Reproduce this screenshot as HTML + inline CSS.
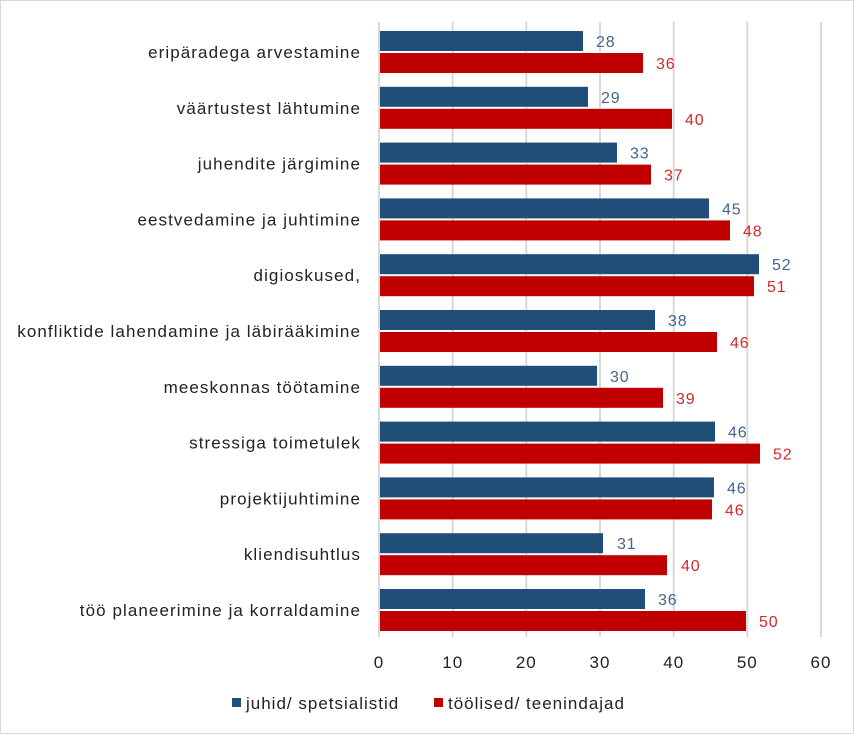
<!DOCTYPE html>
<html><head><meta charset="utf-8"><style>
html,body{margin:0;padding:0;background:#fff;}
svg{display:block;font-family:"Liberation Sans",sans-serif;}
.b{fill:#1f4e79}.r{fill:#c00000}.tb{fill:#44658f;font-size:16px;letter-spacing:0.8px}.tr{fill:#d42a2a;font-size:16px;letter-spacing:0.8px}.l{fill:#222;font-size:17px;letter-spacing:1.08px;text-anchor:end}
.t{font-size:17px;letter-spacing:1px}
</style></head><body>
<svg width="854" height="734" viewBox="0 0 854 734" xmlns="http://www.w3.org/2000/svg">
<rect x="0.5" y="0.5" width="853" height="733" fill="#fff" stroke="#d9d9d9"/>
<g stroke="#d9d9d9" stroke-width="2">
<line x1="379" y1="22" x2="379" y2="637"/>
<line x1="452.7" y1="22" x2="452.7" y2="637"/>
<line x1="526.3" y1="22" x2="526.3" y2="637"/>
<line x1="600" y1="22" x2="600" y2="637"/>
<line x1="673.7" y1="22" x2="673.7" y2="637"/>
<line x1="747.3" y1="22" x2="747.3" y2="637"/>
<line x1="821" y1="22" x2="821" y2="637"/>
</g>
<rect class="b" x="380" y="31" width="203" height="20"/><rect class="r" x="380" y="53" width="263" height="20"/>
<text class="tb" x="596" y="47">28</text><text class="tr" x="656" y="69">36</text><text class="l" x="361" y="58">eripäradega arvestamine</text>

<rect class="b" x="380" y="86.8" width="208" height="20"/><rect class="r" x="380" y="108.8" width="292" height="20"/>
<text class="tb" x="601" y="102.8">29</text><text class="tr" x="685" y="124.8">40</text><text class="l" x="361" y="113.8">väärtustest lähtumine</text>

<rect class="b" x="380" y="142.6" width="237" height="20"/><rect class="r" x="380" y="164.6" width="271" height="20"/>
<text class="tb" x="630" y="158.6">33</text><text class="tr" x="664" y="180.6">37</text><text class="l" x="361" y="169.6">juhendite järgimine</text>

<rect class="b" x="380" y="198.4" width="329" height="20"/><rect class="r" x="380" y="220.4" width="350" height="20"/>
<text class="tb" x="722" y="214.4">45</text><text class="tr" x="743" y="236.4">48</text><text class="l" x="361" y="225.4">eestvedamine ja juhtimine</text>

<rect class="b" x="380" y="254.2" width="379" height="20"/><rect class="r" x="380" y="276.2" width="374" height="20"/>
<text class="tb" x="772" y="270.2">52</text><text class="tr" x="767" y="292.2">51</text><text class="l" x="361" y="281.2">digioskused,</text>

<rect class="b" x="380" y="310" width="275" height="20"/><rect class="r" x="380" y="332" width="337" height="20"/>
<text class="tb" x="668" y="326">38</text><text class="tr" x="730" y="348">46</text><text class="l" x="361" y="337">konfliktide lahendamine ja läbirääkimine</text>

<rect class="b" x="380" y="365.8" width="217" height="20"/><rect class="r" x="380" y="387.8" width="283" height="20"/>
<text class="tb" x="610" y="381.8">30</text><text class="tr" x="676" y="403.8">39</text><text class="l" x="361" y="392.8">meeskonnas töötamine</text>

<rect class="b" x="380" y="421.6" width="335" height="20"/><rect class="r" x="380" y="443.6" width="380" height="20"/>
<text class="tb" x="728" y="437.6">46</text><text class="tr" x="773" y="459.6">52</text><text class="l" x="361" y="448.6">stressiga toimetulek </text>

<rect class="b" x="380" y="477.4" width="334" height="20"/><rect class="r" x="380" y="499.4" width="332" height="20"/>
<text class="tb" x="727" y="493.4">46</text><text class="tr" x="725" y="515.4">46</text><text class="l" x="361" y="504.4">projektijuhtimine</text>

<rect class="b" x="380" y="533.2" width="223" height="20"/><rect class="r" x="380" y="555.2" width="287" height="20"/>
<text class="tb" x="617" y="549.2">31</text><text class="tr" x="681" y="571.2">40</text><text class="l" x="361" y="560.2">kliendisuhtlus</text>

<rect class="b" x="380" y="589" width="265" height="20"/><rect class="r" x="380" y="611" width="366" height="20"/>
<text class="tb" x="658" y="605">36</text><text class="tr" x="759" y="627">50</text><text class="l" x="361" y="616">töö planeerimine ja korraldamine</text>

<g class="t" fill="#222" text-anchor="middle">
<text x="379" y="668">0</text><text x="452.7" y="668">10</text><text x="526.3" y="668">20</text><text x="600" y="668">30</text><text x="673.7" y="668">40</text><text x="747.3" y="668">50</text><text x="821" y="668">60</text>
</g>
<rect x="232" y="698" width="9" height="9" fill="#1f4e79"/>
<text class="t" x="246" y="709" fill="#222">juhid/ spetsialistid</text>
<rect x="434" y="698" width="9" height="9" fill="#c00000"/>
<text class="t" x="448" y="709" fill="#222">töölised/ teenindajad</text>
</svg>
</body></html>
